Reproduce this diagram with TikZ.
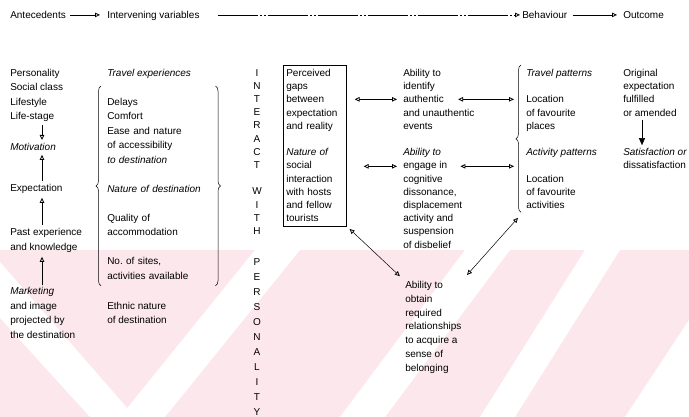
\documentclass[tikz,border=0pt]{standalone}
\usepackage{fontspec}
\setmainfont{Liberation Sans}
\usetikzlibrary{arrows.meta,decorations.pathreplacing}
\definecolor{wmpink}{RGB}{252,231,236}
\begin{document}
\begin{tikzpicture}[x=1pt,y=1pt,line width=0.5pt,every node/.style={font=\fontsize{10}{14.5}\selectfont}]
            \tikzstyle{every node}+=[inner sep=0pt]
            \tikzstyle{txt}=[anchor=north west,align=left]
            \tikzstyle{mtxt}=[anchor=north west,align=left,font=\fontsize{10}{13.2}\selectfont]
            \tikzstyle{arr}=[-{Triangle[open,length=5pt,width=4.5pt,line width=0.8pt]}]
            \tikzstyle{dbl}=[{Triangle[open,length=5pt,width=4.5pt,line width=0.8pt]}-{Triangle[open,length=5pt,width=4.5pt,line width=0.8pt]}]
            \tikzstyle{brc}=[decorate,decoration={brace,amplitude=5pt}]
            \useasboundingbox (0,0) rectangle (689,-417);
            \fill [wmpink] (0,-250) rectangle (689,-417);
            \fill [white] (0,-262) -- (0,-318) -- (90,-417) -- (135,-417) -- cycle;
            \fill [white] (120,-417) -- (165,-417) -- (300,-250) -- (255,-250) -- cycle;
            \fill [white] (340,-417) -- (385,-417) -- (510,-250) -- (465,-250) -- cycle;
            \fill [white] (480,-417) -- (515,-417) -- (620,-250) -- (585,-250) -- cycle;
            \fill [white] (625,-417) -- (689,-417) -- (689,-320) -- cycle;
            \draw (10,-11) node [txt] (antec) {Antecedents};
            \draw (107,-11) node [txt] (interv) {Intervening variables};
            \draw (522,-11) node [txt] (behav) {Behaviour};
            \draw (623,-11) node [txt] (outc) {Outcome};
            \draw [arr,shorten <=4pt,shorten >=7pt] (antec.east) -- (antec.east -| interv.west);
            \draw [arr,shorten <=18pt,shorten >=2pt,line width=0.4pt,dash pattern=on 40pt off 2pt on 2pt off 2pt on 2pt off 2pt] (antec.east -| interv.east) -- (antec.east -| behav.west);
            \draw [arr,shorten <=5pt,shorten >=6pt] (antec.east -| behav.east) -- (antec.east -| outc.west);
            \draw (10,-69) node [txt] (persona) {Personality\\Social class\\Lifestyle\\Life-stage};
            \draw (10,-143) node [txt] (motiv) {\textit{Motivation}};
            \draw (10,-184) node [txt] (expect) {Expectation};
            \draw (10,-228.5) node [txt] (pastexp) {Past experience\\and knowledge};
            \draw (10,-287.5) node [txt] (market) {\textit{Marketing}\\and image\\projected by\\the destination};
            \draw [arr,shorten <=3pt,shorten >=3pt] ([xshift=32pt]persona.south west) -- ([xshift=32pt]motiv.north west);
            \draw [arr,shorten <=3pt,shorten >=4pt] ([xshift=32pt]expect.north west) -- ([xshift=32pt]motiv.south west);
            \draw [arr,shorten <=3pt,shorten >=4pt] ([xshift=32pt]pastexp.north west) -- ([xshift=32pt]expect.south west);
            \draw [arr,shorten <=2pt,shorten >=4pt] ([xshift=32pt]market.north west) -- ([xshift=32pt]pastexp.south west);
            \draw (107,-69) node [txt] (travexp) {\textit{Travel experiences}};
            \draw (107,-98) node [txt,text width=103pt] (destin) {Delays\\Comfort\\Ease and nature\\of accessibility\\\textit{to destination}\\[14.5pt]\textit{Nature of destination}\\[14.5pt]Quality of\\accommodation\\[14.5pt]No.\ of sites,\\activities available};
            \draw [brc] ([xshift=-6pt,yshift=-6pt]destin.south west) -- ([xshift=-6pt,yshift=12pt]destin.north west);
            \draw [brc] ([xshift=5pt,yshift=12pt]destin.north east) -- ([xshift=5pt,yshift=-6pt]destin.south east);
            \draw (107,-302) node [txt] (ethnic) {Ethnic nature\\of destination};
            \draw (257,-69) node [anchor=north,align=center,font=\fontsize{10}{13.2}\selectfont] (interact) {I\\N\\T\\E\\R\\A\\C\\T\\[13.2pt]W\\I\\T\\H};
            \draw (257,-258) node [anchor=north,align=center,font=\fontsize{10}{15}\selectfont] (personal) {P\\E\\R\\S\\O\\N\\A\\L\\I\\T\\Y};
            \draw (283,-65) node [mtxt,draw,text width=57pt,inner xsep=3pt,inner ysep=4pt,line width=0.6pt] (gaps) {Perceived\\gaps\\between\\expectation\\and reality\\[13.2pt]\textit{Nature of}\\social\\interaction\\with hosts\\and fellow\\tourists};
            \draw (403,-69) node [mtxt] (abil1) {Ability to\\identify};
            \draw (403,-95.4) node [mtxt] (authen) {authentic};
            \draw (403,-108.6) node [mtxt] (unauth) {and unauthentic\\events};
            \draw (403,-148.2) node [mtxt] (abil2) {\textit{Ability to}};
            \draw (403,-161.4) node [mtxt] (engage) {engage in};
            \draw (403,-174.6) node [mtxt] (cognit) {cognitive\\dissonance,\\displacement\\activity and\\suspension\\of disbelief};
            \draw (405,-281) node [mtxt,font=\fontsize{10}{13.8}\selectfont] (obtain) {Ability to\\obtain\\required\\relationships\\to acquire a\\sense of\\belonging};
            \draw (526,-69) node [mtxt] (travpat) {\textit{Travel patterns}};
            \draw (526,-95.4) node [mtxt] (locat1) {Location\\of favourite\\places};
            \draw (526,-148.2) node [mtxt] (actpat) {\textit{Activity patterns}};
            \draw (526,-174.6) node [mtxt] (locat2) {Location\\of favourite\\activities};
            \draw [brc] ([xshift=-5pt,yshift=-3.5pt]locat2.south west) -- ([xshift=-5pt,yshift=4pt]travpat.north west);
            \draw (623,-69) node [mtxt] (original) {Original\\expectation\\fulfilled\\or amended};
            \draw (623,-148.2) node [mtxt] (satisf) {\textit{Satisfaction or}\\dissatisfaction};
            \draw [-{Triangle[length=7pt,width=6pt]},shorten <=4pt,shorten >=3pt] ([xshift=19pt]original.south west) -- ([xshift=19pt]satisf.north west);
            \draw [dbl,shorten <=8pt,shorten >=6pt] (gaps.east |- authen.west) -- (authen.west);
            \draw [dbl,shorten <=17pt,shorten >=6pt] (gaps.east |- engage.west) -- (engage.west);
            \draw [dbl,shorten <=14pt,shorten >=12pt] (authen.east) -- (authen.east -| locat1.west);
            \draw [dbl,shorten <=13pt,shorten >=12pt] (engage.east) -- (engage.east -| locat1.west);
            \draw [dbl,shorten <=4pt,shorten >=7pt] (gaps.south east) -- (obtain.north west);
            \draw [dbl,shorten <=8pt,shorten >=12pt] (obtain.north east) -- (locat2.south west);
        \end{tikzpicture}
\end{document}
